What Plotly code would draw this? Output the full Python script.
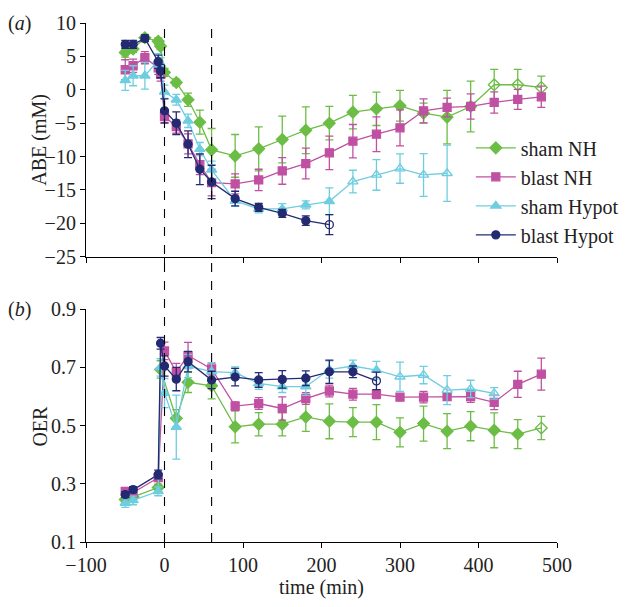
import plotly.graph_objects as go

# ---------------- data ----------------
series_names = ["sham NH", "blast NH", "sham Hypot", "blast Hypot"]

# (a) ABE (mM)
t_top_green = [-50, -40, -25, -8, -5, 0, 15, 30, 45, 60, 90, 120, 150, 180, 210, 240, 270, 300, 330, 360, 390, 420, 450, 480]
abe_green = [5.6, 6.1, 7.8, 7.25, 6.5, 2.6, 1.1, -1.5, -4.85, -9.0, -9.9, -8.85, -7.45, -6.05, -5.0, -3.35, -2.85, -2.4, -3.5, -4.1, -2.5, 0.75, 0.75, 0.35]
abe_green_err = [0.7, 0.5, 0.5, 0.5, 0.5, 0.6, 0.5, 1.0, 1.8, 3.2, 3.2, 3.3, 3.5, 3.5, 2.5, 2.5, 2.5, 2.3, 1.5, 4.0, 3.8, 2.3, 2.3, 1.7]
abe_green_open = [0] * 21 + [1, 1, 1]

t_top_purple = [-50, -40, -25, -8, -5, 0, 15, 30, 45, 60, 90, 120, 150, 180, 210, 240, 270, 300, 330, 360, 390, 420, 450, 480]
abe_purple = [3.0, 3.6, 4.8, 3.3, 2.3, -4.0, -5.5, -8.1, -11.2, -13.9, -14.1, -13.5, -12.15, -11.05, -9.45, -7.7, -6.65, -5.7, -3.15, -2.65, -2.5, -1.9, -1.45, -1.05]
abe_purple_err = [1.5, 1.0, 0.9, 1.0, 1.0, 1.0, 1.0, 1.5, 1.5, 2.0, 1.5, 1.6, 2.0, 2.3, 2.5, 2.5, 2.6, 2.7, 1.8, 1.4, 1.9, 1.6, 1.5, 1.6]
abe_purple_open = [0] * 24

t_top_cyan = [-50, -40, -25, -8, -5, 0, 15, 30, 45, 60, 90, 120, 150, 180, 210, 240, 270, 300, 330, 360]
abe_cyan = [1.4, 2.1, 2.1, 4.4, 3.8, -0.3, -1.5, -4.65, -8.9, -12.0, -16.65, -17.85, -17.85, -17.25, -16.7, -13.75, -12.75, -11.8, -12.75, -12.5]
abe_cyan_err = [1.5, 1.5, 2.0, 1.0, 1.0, 1.0, 0.8, 1.0, 1.0, 1.3, 0.8, 0.6, 0.8, 0.6, 2.0, 1.7, 2.3, 2.2, 3.2, 4.2]
abe_cyan_open = [0] * 15 + [1] * 5

t_top_blue = [-50, -40, -25, -8, -5, 0, 15, 30, 45, 60, 90, 120, 150, 180, 210]
abe_blue = [6.8, 6.8, 7.7, 4.2, 2.8, -3.15, -5.0, -8.15, -11.9, -13.8, -16.3, -17.6, -18.5, -19.6, -20.2]
abe_blue_err = [0.6, 0.6, 0.5, 1.0, 1.0, 1.8, 1.7, 2.0, 2.3, 2.5, 1.1, 0.6, 0.6, 0.7, 1.5]
abe_blue_open = [0] * 14 + [1]

# (b) OER
t_bot_green = [-50, -40, -8, -5, 15, 30, 60, 90, 120, 150, 180, 210, 240, 270, 300, 330, 360, 390, 420, 450, 480]
oer_green = [0.246, 0.255, 0.287, 0.693, 0.525, 0.649, 0.637, 0.496, 0.505, 0.505, 0.530, 0.515, 0.512, 0.512, 0.477, 0.507, 0.481, 0.498, 0.484, 0.471, 0.492]
oer_green_err = [0.01, 0.01, 0.012, 0.03, 0.03, 0.035, 0.045, 0.055, 0.04, 0.04, 0.05, 0.06, 0.05, 0.06, 0.05, 0.06, 0.06, 0.05, 0.06, 0.05, 0.04]
oer_green_open = [0] * 20 + [1]

t_bot_purple = [-50, -40, -8, 0, 15, 30, 60, 90, 120, 150, 180, 210, 240, 270, 300, 330, 360, 390, 420, 450, 480]
oer_purple = [0.274, 0.270, 0.321, 0.757, 0.684, 0.741, 0.695, 0.567, 0.576, 0.559, 0.593, 0.619, 0.608, 0.608, 0.598, 0.598, 0.600, 0.600, 0.580, 0.642, 0.677]
oer_purple_err = [0.01, 0.01, 0.012, 0.03, 0.03, 0.045, 0.02, 0.015, 0.02, 0.04, 0.02, 0.02, 0.02, 0.015, 0.01, 0.02, 0.01, 0.02, 0.025, 0.045, 0.055]
oer_purple_open = [0] * 21

t_bot_cyan = [-50, -40, -8, -5, 0, 15, 30, 60, 90, 120, 150, 180, 210, 240, 270, 300, 330, 360, 390, 420]
oer_cyan = [0.234, 0.243, 0.274, 0.700, 0.612, 0.495, 0.705, 0.686, 0.682, 0.645, 0.634, 0.634, 0.693, 0.705, 0.691, 0.668, 0.674, 0.622, 0.626, 0.611]
oer_cyan_err = [0.015, 0.015, 0.015, 0.03, 0.05, 0.11, 0.04, 0.03, 0.02, 0.02, 0.02, 0.03, 0.03, 0.02, 0.03, 0.05, 0.03, 0.05, 0.03, 0.02]
oer_cyan_open = [0] * 15 + [1] * 5

t_bot_blue = [-50, -40, -8, -5, 0, 15, 30, 60, 90, 120, 150, 180, 210, 240, 270]
oer_blue = [0.263, 0.280, 0.332, 0.783, 0.705, 0.660, 0.720, 0.657, 0.667, 0.657, 0.659, 0.663, 0.685, 0.685, 0.654]
oer_blue_err = [0.01, 0.01, 0.015, 0.02, 0.035, 0.04, 0.035, 0.03, 0.03, 0.025, 0.03, 0.025, 0.04, 0.02, 0.03]
oer_blue_open = [0] * 14 + [1]

x_ticks = [-100, 0, 100, 200, 300, 400, 500]
abe_ticks = [10, 5, 0, -5, -10, -15, -20, -25]
oer_ticks = [0.1, 0.3, 0.5, 0.7, 0.9]
event_times = [0, 60]

# ---------------- styling ----------------
colors = ["#6cbd45", "#c050a2", "#6fcde0", "#232a72"]
symbols = ["diamond", "square", "triangle-up", "circle"]
sizes = [9, 8, 9, 8]
FONT = "Liberation Serif, Times New Roman, serif"
FS = 20

fig = go.Figure()

top = [
    (t_top_green, abe_green, abe_green_err, abe_green_open),
    (t_top_purple, abe_purple, abe_purple_err, abe_purple_open),
    (t_top_cyan, abe_cyan, abe_cyan_err, abe_cyan_open),
    (t_top_blue, abe_blue, abe_blue_err, abe_blue_open),
]
bot = [
    (t_bot_green, oer_green, oer_green_err, oer_green_open),
    (t_bot_purple, oer_purple, oer_purple_err, oer_purple_open),
    (t_bot_cyan, oer_cyan, oer_cyan_err, oer_cyan_open),
    (t_bot_blue, oer_blue, oer_blue_err, oer_blue_open),
]


def add(data, i, yaxis, show):
    t, v, e, op = data
    syms = [symbols[i] + ("-open" if o else "") for o in op]
    fig.add_trace(go.Scatter(
        x=t, y=v, mode="lines+markers", name=series_names[i],
        xaxis="x" if yaxis == "y" else "x2", yaxis=yaxis,
        line=dict(color=colors[i], width=1.3),
        marker=dict(symbol=syms, size=sizes[i], color=colors[i],
                    line=dict(color=colors[i], width=1.3)),
        error_y=dict(type="data", array=e, visible=True, color=colors[i],
                     thickness=1.3, width=4),
        showlegend=show, legendgroup="g%d" % i, legendrank=i + 1,
    ))


for i in range(4):
    add(top[i], i, "y", True)
for i in range(4):
    add(bot[i], i, "y2", False)

shapes = []
for t in event_times:
    shapes.append(dict(type="line", xref="x", yref="paper", x0=t, x1=t, y0=0, y1=1.0,
                       line=dict(color="black", width=1.1, dash="dash")))

axis_common = dict(showline=True, linecolor="black", linewidth=1.2, ticks="outside",
                   ticklen=5, tickwidth=1.2, tickcolor="black", showgrid=False,
                   zeroline=False, mirror=False, automargin=False,
                   tickfont=dict(family=FONT, size=FS, color="#222"))

TXT = dict(family=FONT, size=FS, color="#222")

fig.update_layout(
    width=629, height=607,
    margin=dict(l=78, r=80, t=15, b=73, autoexpand=False),
    paper_bgcolor="white", plot_bgcolor="white",
    font=TXT,
    shapes=shapes,
    xaxis=dict(range=[-100, 500], tickvals=x_ticks, showticklabels=False,
               anchor="y", domain=[0, 1], **axis_common),
    xaxis2=dict(range=[-100, 500], tickvals=x_ticks, anchor="y2", domain=[0, 1],
                title=dict(text="time (min)", font=TXT, standoff=2),
                **axis_common),
    yaxis=dict(range=[-25, 10], tickvals=abe_ticks, domain=[0.5497, 1.0], anchor="x",
               **axis_common),
    yaxis2=dict(range=[0.1, 0.9], tickvals=oer_ticks, tickformat=".1f", domain=[0, 0.4484],
                anchor="x2", **axis_common),
    legend=dict(x=0.817, y=0.797, xanchor="left", yanchor="top", traceorder="grouped",
                bgcolor="rgba(0,0,0,0)", font=TXT, tracegroupgap=0, itemwidth=40),
    annotations=[
        dict(text="(<i>a</i>)", xref="paper", yref="paper", x=-0.142, y=1.0,
             xanchor="center", yanchor="middle", showarrow=False, font=TXT),
        dict(text="(<i>b</i>)", xref="paper", yref="paper", x=-0.142, y=0.4484,
             xanchor="center", yanchor="middle", showarrow=False, font=TXT),
        dict(text="ABE (mM)", xref="paper", yref="paper", x=-0.0977, y=0.775,
             xanchor="center", yanchor="middle", textangle=-90, showarrow=False, font=TXT),
        dict(text="OER", xref="paper", yref="paper", x=-0.0977, y=0.2242,
             xanchor="center", yanchor="middle", textangle=-90, showarrow=False, font=TXT),
    ],
)

fig.write_html("out.html")
